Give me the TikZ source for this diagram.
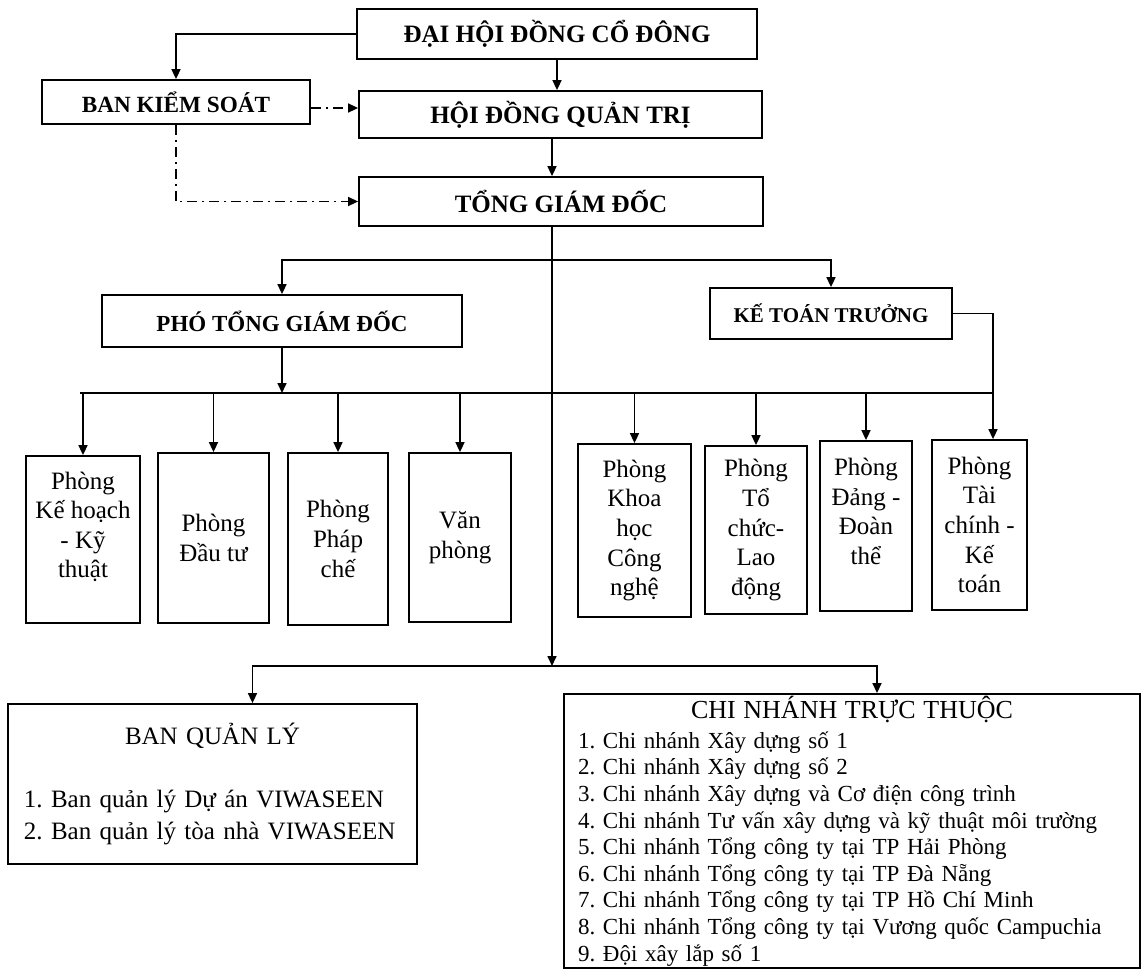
\documentclass[tikz,border=0pt]{standalone}
\usepackage{fontspec}
\setmainfont{Liberation Serif}
\usetikzlibrary{arrows.meta}
\frenchspacing
\tikzset{
  headbox/.style={rectangle, draw, line width=0.9pt, inner sep=0pt,
    font=\bfseries\fontsize{12.5pt}{15pt}\selectfont},
  deptbox/.style={rectangle, draw, line width=0.9pt, inner sep=0pt,
    align=center, font=\fontsize{12.5pt}{14.8pt}\selectfont},
  listbox/.style={rectangle, draw, line width=0.9pt, inner ysep=1pt,
    align=left},
  arrow/.style={-{Triangle[length=5pt,width=4.5pt]}, line width=0.8pt},
  dotarrow/.style={arrow, dash pattern=on 5pt off 2.5pt on 1pt off 2.5pt},
  line/.style={line width=0.8pt}
}

\begin{document}
\begin{tikzpicture}[x=0.5pt, y=-0.5pt]
  \path[use as bounding box, fill=white] (0,0) rectangle (1145,970);

  % Top levels
  \node[headbox, minimum width=200pt, minimum height=25pt] (dhd) at (557,34) {ĐẠI HỘI ĐỒNG CỔ ĐÔNG};
  \node[headbox, minimum width=134pt, minimum height=22pt, font=\bfseries\fontsize{11.6pt}{13pt}\selectfont] (bks) at (176,102) {BAN KIỂM SOÁT};
  \node[headbox, minimum width=201.5pt, minimum height=23.5pt] (hdqt) at (560.5,114.5) {HỘI ĐỒNG QUẢN TRỊ};
  \node[headbox, minimum width=202pt, minimum height=24.5pt] (tgd) at (561,201.5) {TỔNG GIÁM ĐỐC};
  \node[headbox, minimum width=180pt, minimum height=26pt, font=\bfseries\fontsize{11.5pt}{13pt}\selectfont] (ptgd) at (282,321) {PHÓ TỔNG GIÁM ĐỐC};
  \node[headbox, minimum width=121pt, minimum height=25.5pt, font=\bfseries\fontsize{10.5pt}{12pt}\selectfont] (ktt) at (831,313.5) {KẾ TOÁN TRƯỞNG};

  % Departments
  \node[deptbox, minimum width=57pt, minimum height=83.5pt] (pkh) at (83,539.5) {Phòng\\Kế hoạch\\- Kỹ\\thuật\\\mbox{}};
  \node[deptbox, minimum width=55.5pt, minimum height=85pt] (pdt) at (213.5,538) {Phòng\\Đầu tư};
  \node[deptbox, minimum width=50pt, minimum height=86pt] (ppc) at (338,539) {Phòng\\Pháp\\chế};
  \node[deptbox, minimum width=51pt, minimum height=84.5pt] (vp) at (460,537.5) {Văn\\phòng};
  \node[deptbox, minimum width=56.5pt, minimum height=86.5pt] (pkhcn) at (634.5,530.5) {Phòng\\Khoa\\học\\Công\\nghệ};
  \node[deptbox, minimum width=51pt, minimum height=84pt] (ptc) at (756,530) {Phòng\\Tổ\\chức-\\Lao\\động};
  \node[deptbox, minimum width=46pt, minimum height=85pt] (pdd) at (866,526) {Phòng\\Đảng -\\Đoàn\\thể\\\mbox{}};
  \node[deptbox, minimum width=47.5pt, minimum height=85pt] (ptckt) at (979.5,525) {Phòng\\Tài\\chính -\\Kế\\toán};

  % Lower units
  \node[listbox, minimum width=204.5pt, minimum height=80pt, text width=188.5pt, inner xsep=8pt,
    font=\fontsize{12.5pt}{16pt}\selectfont] (bql) at (212.5,784)
    {\makebox[\hsize]{BAN QUẢN LÝ}\\[15.5pt]
     1. Ban quản lý Dự án VIWASEEN\\
     2. Ban quản lý tòa nhà VIWASEEN};
  \node[listbox, minimum width=288pt, minimum height=131pt, text width=274pt, inner xsep=7pt,
    font=\fontsize{11.5pt}{13.3pt}\selectfont] (cnt) at (852,831)
    {\makebox[\hsize]{\fontsize{13pt}{13.3pt}\selectfont CHI NHÁNH TRỰC THUỘC}\\[1.7pt]
     1. Chi nhánh Xây dựng số 1\\
     2. Chi nhánh Xây dựng số 2\\
     3. Chi nhánh Xây dựng và Cơ điện công trình\\
     4. Chi nhánh Tư vấn xây dựng và kỹ thuật môi trường\\
     5. Chi nhánh Tổng công ty tại TP Hải Phòng\\
     6. Chi nhánh Tổng công ty tại TP Đà Nẵng\\
     7. Chi nhánh Tổng công ty tại TP Hồ Chí Minh\\
     8. Chi nhánh Tổng công ty tại Vương quốc Campuchia\\
     9. Đội xây lắp số 1};

  % Bus points
  \coordinate (busT) at (552,260);
  \coordinate (busL) at (80,393);
  \coordinate (busR) at (993,393);
  \coordinate (trunk) at (552,666);

  % Connections
  \draw[arrow] (dhd.west) -| (bks.north);
  \draw[arrow] (dhd.south) -- (dhd.south |- hdqt.north);
  \draw[dotarrow] ([yshift=-3pt]bks.east) -- ([yshift=-3pt]bks.east -| hdqt.west);
  \draw[dotarrow] (bks.south) |- (tgd.west);
  \draw[arrow] (hdqt.south -| trunk) -- (tgd.north -| trunk);
  \draw[arrow] (tgd.south -| trunk) -- (trunk);
  \draw[arrow] (busT) -| (ptgd.north);
  \draw[arrow] (busT) -| (ktt.north);
  \draw[arrow] (ptgd.south) -- (ptgd.south |- busL);
  \draw[line] (ktt.east) -| (busR) -- (busL);
  \foreach \dept in {pkh, pdt, ppc, vp, pkhcn, ptc, pdd}
    \draw[arrow] (\dept.north |- busL) -- (\dept.north);
  \draw[arrow] (busR) -- (busR |- ptckt.north);
  \draw[arrow] (trunk) -| ([xshift=20pt]bql.north);
  \draw[arrow] (trunk) -| ([xshift=12.5pt]cnt.north);
\end{tikzpicture}
\end{document}
